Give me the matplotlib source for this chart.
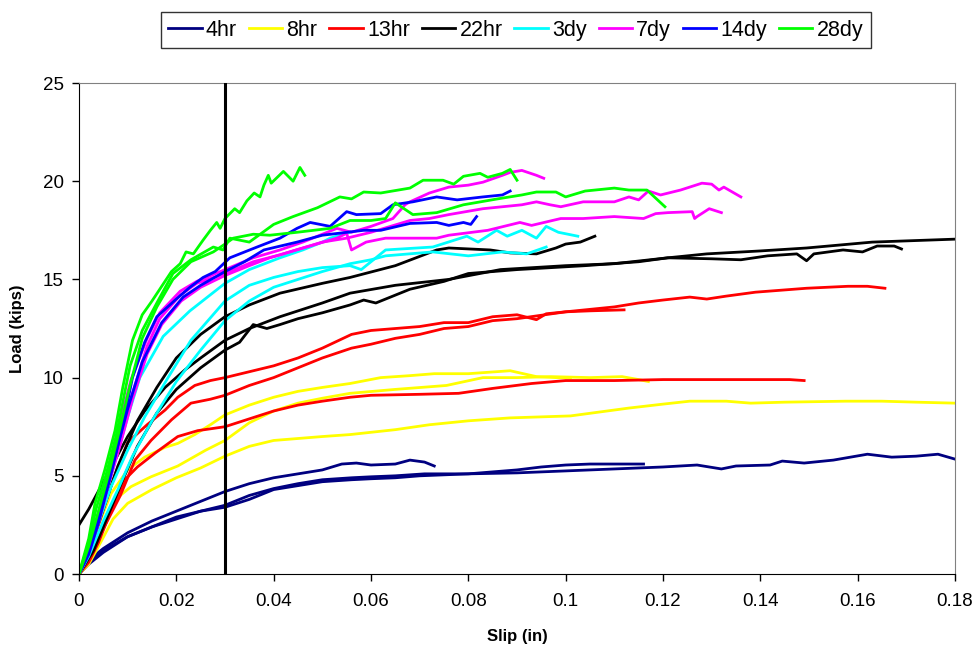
import matplotlib
matplotlib.use("Agg")
import matplotlib.pyplot as plt

plt.rcParams['font.family'] = ['Liberation Sans', 'DejaVu Sans']

# series names and colours (legend order)
ages = ['4hr', '8hr', '13hr', '22hr', '3dy', '7dy', '14dy', '28dy']
colors = ['#000080', '#FFFF00', '#FF0000', '#000000', '#00FFFF', '#FF00FF', '#0000FF', '#00FF00']

# ---- 4hr ----
s4a = [0, 0.002, 0.005, 0.01, 0.015, 0.02, 0.025, 0.03, 0.035, 0.04, 0.045, 0.05, 0.054, 0.057, 0.06, 0.065, 0.068, 0.071, 0.073]
l4a = [0, 0.7, 1.3, 2.1, 2.7, 3.2, 3.7, 4.2, 4.6, 4.9, 5.1, 5.3, 5.6, 5.65, 5.55, 5.6, 5.8, 5.7, 5.5]
s4b = [0, 0.002, 0.005, 0.01, 0.015, 0.02, 0.025, 0.03, 0.033, 0.035, 0.04, 0.045, 0.05, 0.056, 0.06, 0.065,
       0.071, 0.08, 0.085, 0.09, 0.095, 0.1, 0.105, 0.11, 0.116]
l4b = [0, 0.6, 1.2, 1.9, 2.4, 2.8, 3.2, 3.5, 3.8, 4.0, 4.35, 4.6, 4.8, 4.9, 4.95, 5.0,
       5.1, 5.1, 5.2, 5.3, 5.45, 5.55, 5.6, 5.6, 5.6]
s4c = [0, 0.002, 0.005, 0.01, 0.015, 0.02, 0.025, 0.03, 0.035, 0.04, 0.045, 0.05, 0.056, 0.06, 0.065, 0.07,
       0.08, 0.09, 0.1, 0.11, 0.12, 0.127, 0.132, 0.135, 0.142, 0.1445, 0.149, 0.155, 0.162, 0.167, 0.172, 0.1765, 0.18]
l4c = [0, 0.5, 1.1, 1.9, 2.4, 2.9, 3.2, 3.4, 3.8, 4.3, 4.5, 4.7, 4.8, 4.85, 4.9, 5.0,
       5.1, 5.15, 5.25, 5.35, 5.45, 5.55, 5.35, 5.5, 5.55, 5.75, 5.65, 5.8, 6.1, 5.95, 6.0, 6.1, 5.85]

# ---- 8hr ----
s8a = [0, 0.002, 0.004, 0.0066, 0.01, 0.0135, 0.0177, 0.0203, 0.0238, 0.027, 0.03, 0.035, 0.04, 0.045, 0.05,
       0.0557, 0.062, 0.068, 0.073, 0.08, 0.0886, 0.094, 0.098, 0.101]
l8a = [0, 1.0, 2.5, 4.1, 5.3, 5.95, 6.45, 6.65, 7.1, 7.6, 8.1, 8.6, 9.0, 9.3, 9.5,
       9.7, 10.0, 10.1, 10.2, 10.2, 10.35, 10.05, 10.0, 10.0]
s8b = [0, 0.003, 0.006, 0.008, 0.0107, 0.0148, 0.0203, 0.026, 0.03, 0.035, 0.04, 0.045, 0.05, 0.0557, 0.065,
       0.0755, 0.083, 0.09, 0.097, 0.105, 0.1116, 0.115, 0.117]
l8b = [0, 1.5, 3.0, 3.9, 4.45, 4.95, 5.5, 6.3, 6.8, 7.7, 8.3, 8.7, 8.95, 9.2, 9.4,
       9.6, 10.0, 10.0, 10.05, 10.0, 10.05, 9.9, 9.8]
s8c = [0, 0.002, 0.004, 0.007, 0.01, 0.015, 0.02, 0.025, 0.03, 0.035, 0.04, 0.05, 0.0557, 0.065, 0.072, 0.08,
       0.0886, 0.101, 0.107, 0.113, 0.12, 0.1255, 0.133, 0.138, 0.145, 0.1575, 0.165, 0.172, 0.18]
l8c = [0, 0.5, 1.4, 2.8, 3.6, 4.3, 4.9, 5.4, 6.0, 6.5, 6.8, 7.0, 7.1, 7.35, 7.6, 7.8,
       7.95, 8.05, 8.25, 8.45, 8.65, 8.8, 8.8, 8.7, 8.75, 8.8, 8.8, 8.75, 8.7]

# ---- 13hr ----
s13a = [0, 0.002, 0.004, 0.007, 0.01, 0.014, 0.0177, 0.0203, 0.0238, 0.027, 0.03, 0.035, 0.04, 0.045, 0.05,
        0.056, 0.06, 0.065, 0.07, 0.075, 0.08, 0.085, 0.09, 0.094, 0.096, 0.1, 0.105, 0.112]
l13a = [0, 1.0, 2.5, 4.8, 6.7, 7.6, 8.35, 9.0, 9.6, 9.85, 10.0, 10.3, 10.6, 11.0, 11.5,
        12.2, 12.4, 12.5, 12.6, 12.8, 12.8, 13.1, 13.2, 12.95, 13.25, 13.35, 13.4, 13.45]
s13b = [0, 0.002, 0.005, 0.0085, 0.0115, 0.0148, 0.019, 0.023, 0.027, 0.03, 0.035, 0.04, 0.045, 0.05, 0.056,
        0.06, 0.065, 0.07, 0.075, 0.08, 0.085, 0.09, 0.1, 0.11, 0.115, 0.12, 0.1255, 0.129, 0.133, 0.139,
        0.1495, 0.158, 0.162, 0.1656]
l13b = [0, 0.8, 2.3, 4.0, 5.8, 6.8, 7.85, 8.7, 8.9, 9.1, 9.6, 10.0, 10.5, 11.0, 11.5,
        11.7, 12.0, 12.2, 12.5, 12.6, 12.9, 13.0, 13.35, 13.6, 13.8, 13.95, 14.1, 14.0, 14.15, 14.35,
        14.55, 14.65, 14.65, 14.55]
s13c = [0, 0.002, 0.004, 0.0066, 0.0094, 0.012, 0.0156, 0.0203, 0.0244, 0.03, 0.035, 0.04, 0.045, 0.05,
        0.0557, 0.06, 0.07, 0.078, 0.085, 0.093, 0.1, 0.11, 0.12, 0.13, 0.14, 0.146, 0.149]
l13c = [0, 0.6, 1.6, 3.25, 4.8, 5.45, 6.15, 7.0, 7.3, 7.5, 7.9, 8.3, 8.6, 8.8,
        9.0, 9.1, 9.15, 9.2, 9.45, 9.7, 9.85, 9.85, 9.9, 9.9, 9.9, 9.9, 9.85]

# ---- 22hr ----
s22a = [0, 0.002, 0.005, 0.008, 0.012, 0.016, 0.02, 0.025, 0.03, 0.035, 0.0413, 0.05, 0.0557, 0.065, 0.0735,
        0.076, 0.0845, 0.0886, 0.094, 0.098, 0.1, 0.103, 0.106]
l22a = [0, 1.2, 3.3, 5.5, 7.8, 9.5, 11.0, 12.2, 13.1, 13.7, 14.3, 14.8, 15.1, 15.7, 16.5,
        16.6, 16.5, 16.35, 16.3, 16.6, 16.8, 16.9, 17.2]
s22b = [0, 0.002, 0.0045, 0.0074, 0.01, 0.0135, 0.0177, 0.0218, 0.025, 0.03, 0.035, 0.0413, 0.05, 0.0557,
        0.065, 0.076, 0.0866, 0.1, 0.11, 0.121, 0.129, 0.14, 0.1495, 0.163, 0.18]
l22b = [2.5, 3.3, 4.45, 5.8, 7.0, 8.3, 9.5, 10.4, 11.0, 11.9, 12.5, 13.1, 13.8, 14.3,
        14.7, 15.0, 15.5, 15.7, 15.8, 16.1, 16.3, 16.45, 16.6, 16.9, 17.05]
s22c = [0, 0.003, 0.006, 0.009, 0.012, 0.016, 0.02, 0.025, 0.03, 0.033, 0.0358, 0.0386, 0.0413, 0.045, 0.05,
        0.0557, 0.0585, 0.061, 0.068, 0.075, 0.08, 0.09, 0.104, 0.115, 0.121, 0.13, 0.136, 0.1415, 0.1475,
        0.1495, 0.151, 0.157, 0.161, 0.164, 0.1675, 0.169]
l22c = [0, 1.2, 3.0, 4.8, 6.5, 8.2, 9.4, 10.5, 11.4, 11.8, 12.7, 12.5, 12.7, 13.0, 13.3,
        13.7, 13.95, 13.8, 14.5, 14.9, 15.3, 15.5, 15.7, 15.9, 16.1, 16.05, 16.0, 16.2, 16.3,
        15.95, 16.3, 16.5, 16.4, 16.7, 16.7, 16.55]

# ---- 3dy ----
s3a = [0, 0.002, 0.004, 0.0066, 0.01, 0.0125, 0.0173, 0.0228, 0.03, 0.035, 0.0413, 0.046, 0.05, 0.0516, 0.0557]
l3a = [0, 1.2, 2.9, 5.0, 8.0, 10.0, 12.1, 13.4, 14.8, 15.5, 16.1, 16.5, 16.9, 17.1, 17.4]
s3b = [0, 0.002, 0.004, 0.0066, 0.01, 0.0135, 0.0183, 0.023, 0.03, 0.035, 0.04, 0.045, 0.05, 0.0557, 0.058,
       0.063, 0.0727, 0.0797, 0.082, 0.0858, 0.088, 0.091, 0.094, 0.096, 0.0985, 0.1025]
l3b = [0, 1.0, 2.6, 4.45, 6.3, 8.0, 10.0, 11.9, 13.9, 14.7, 15.1, 15.4, 15.6, 15.7, 15.5,
       16.5, 16.65, 17.2, 16.9, 17.5, 17.2, 17.5, 17.1, 17.7, 17.4, 17.2]
s3c = [0, 0.002, 0.005, 0.008, 0.011, 0.015, 0.02, 0.025, 0.03, 0.035, 0.04, 0.045, 0.05, 0.0557, 0.06,
       0.063, 0.0727, 0.08, 0.087, 0.092, 0.096]
l3c = [0, 0.9, 2.7, 4.3, 6.0, 7.8, 9.8, 11.4, 12.9, 13.9, 14.6, 15.0, 15.4, 15.8, 16.0,
       16.2, 16.4, 16.2, 16.4, 16.3, 16.65]

# ---- 7dy ----
s7a = [0, 0.002, 0.004, 0.006, 0.008, 0.0107, 0.014, 0.0166, 0.0208, 0.0242, 0.03, 0.0358, 0.0413, 0.046,
       0.05, 0.053, 0.056, 0.06, 0.0645, 0.067, 0.068, 0.072, 0.076, 0.08, 0.083, 0.087, 0.0886, 0.091,
       0.094, 0.0955]
l7a = [0, 1.4, 3.1, 5.3, 7.3, 9.9, 12.0, 13.3, 14.4, 14.9, 15.5, 16.1, 16.5, 16.9,
       17.3, 17.6, 17.4, 17.7, 18.1, 18.8, 18.95, 19.4, 19.7, 19.8, 19.95, 20.3, 20.45, 20.55,
       20.3, 20.15]
s7b = [0, 0.002, 0.004, 0.006, 0.008, 0.011, 0.014, 0.0166, 0.0208, 0.0242, 0.03, 0.0358, 0.0413, 0.046,
       0.05, 0.055, 0.06, 0.064, 0.068, 0.072, 0.076, 0.083, 0.091, 0.094, 0.0968, 0.099, 0.1036, 0.11,
       0.113, 0.115, 0.117, 0.1195, 0.1236, 0.128, 0.130, 0.1315, 0.1325, 0.136]
l7b = [0, 1.2, 2.8, 4.8, 6.7, 9.2, 11.6, 13.0, 14.2, 14.8, 15.3, 15.9, 16.25, 16.6,
       16.9, 17.1, 17.4, 17.7, 18.0, 18.1, 18.3, 18.6, 18.8, 18.95, 18.8, 18.7, 18.95, 18.95,
       19.2, 19.05, 19.5, 19.3, 19.55, 19.9, 19.85, 19.55, 19.7, 19.2]
s7c = [0, 0.002, 0.004, 0.006, 0.0085, 0.011, 0.014, 0.017, 0.021, 0.025, 0.03, 0.035, 0.0392, 0.046,
       0.053, 0.055, 0.056, 0.059, 0.063, 0.0735, 0.076, 0.084, 0.0906, 0.093, 0.099, 0.1036, 0.11,
       0.116, 0.1185, 0.121, 0.126, 0.1265, 0.127, 0.1295, 0.132]
l7c = [0, 1.1, 2.6, 4.5, 6.6, 8.9, 11.2, 12.7, 13.9, 14.6, 15.2, 15.7, 16.1, 16.6,
       17.1, 17.35, 16.5, 16.9, 17.1, 17.1, 17.25, 17.5, 17.9, 17.75, 18.1, 18.1, 18.2,
       18.1, 18.35, 18.4, 18.45, 18.1, 18.2, 18.6, 18.4]

# ---- 14dy ----
s14a = [0, 0.002, 0.004, 0.0065, 0.009, 0.011, 0.0135, 0.016, 0.02, 0.0228, 0.0255, 0.028, 0.031, 0.0366,
        0.0413, 0.0448, 0.0475, 0.0516, 0.055, 0.057, 0.062, 0.0645, 0.0686, 0.0735, 0.0777, 0.083, 0.087, 0.0886]
l14a = [0, 1.0, 2.6, 5.0, 7.6, 10.0, 11.8, 13.1, 14.0, 14.6, 15.1, 15.4, 16.1, 16.65,
        17.1, 17.6, 17.9, 17.7, 18.45, 18.3, 18.35, 18.8, 18.95, 19.2, 19.05, 19.2, 19.3, 19.5]
s14b = [0, 0.002, 0.004, 0.007, 0.01, 0.013, 0.017, 0.0214, 0.025, 0.03, 0.034, 0.038, 0.0448, 0.050,
        0.0585, 0.062, 0.068, 0.0735, 0.076, 0.079, 0.0805, 0.0817]
l14b = [0, 1.1, 2.8, 5.6, 8.4, 10.8, 12.8, 14.1, 14.7, 15.4, 15.9, 16.5, 16.9, 17.25,
        17.5, 17.5, 17.85, 17.9, 17.75, 17.9, 17.8, 18.2]

# ---- 28dy ----
s28a = [0, 0.002, 0.0033, 0.0053, 0.0074, 0.009, 0.011, 0.013, 0.015, 0.0166, 0.019, 0.0208, 0.022, 0.0235,
        0.0255, 0.027, 0.0283, 0.029, 0.030, 0.032, 0.033, 0.0345, 0.036, 0.0372, 0.038, 0.0389, 0.0395,
        0.042, 0.044, 0.0454, 0.0464]
l28a = [0, 1.8, 3.6, 5.3, 7.3, 9.5, 11.9, 13.2, 13.9, 14.5, 15.4, 15.8, 16.4, 16.3,
        17.0, 17.5, 17.9, 17.6, 18.1, 18.6, 18.4, 19.0, 19.4, 19.2, 19.8, 20.3, 19.9,
        20.5, 20.0, 20.7, 20.3]
s28b = [0, 0.002, 0.0035, 0.0055, 0.0076, 0.0088, 0.0105, 0.013, 0.016, 0.0193, 0.023, 0.0276, 0.0296,
        0.031, 0.035, 0.040, 0.044, 0.049, 0.0536, 0.056, 0.0585, 0.062, 0.068, 0.0707, 0.0748, 0.077,
        0.079, 0.0824, 0.084, 0.087, 0.0886, 0.090]
l28b = [0, 1.6, 3.3, 5.0, 7.0, 8.5, 10.6, 12.4, 13.8, 15.3, 16.0, 16.65, 16.5,
        17.1, 16.9, 17.8, 18.2, 18.65, 19.2, 19.1, 19.45, 19.4, 19.65, 20.05, 20.05, 19.85,
        20.25, 20.4, 20.2, 20.4, 20.6, 20.05]
s28c = [0, 0.002, 0.004, 0.006, 0.008, 0.0105, 0.013, 0.016, 0.0193, 0.023, 0.0276, 0.030, 0.0317, 0.0358,
        0.0392, 0.0448, 0.0516, 0.0557, 0.060, 0.063, 0.065, 0.0686, 0.0735, 0.079, 0.086, 0.091, 0.094,
        0.098, 0.1, 0.104, 0.11, 0.113, 0.1167, 0.1204]
l28c = [0, 1.4, 3.2, 5.0, 7.0, 9.6, 12.0, 13.6, 15.0, 15.9, 16.4, 16.8, 17.1, 17.3,
        17.25, 17.4, 17.6, 18.0, 18.0, 18.1, 18.9, 18.3, 18.4, 18.8, 19.1, 19.3, 19.45,
        19.45, 19.2, 19.5, 19.65, 19.55, 19.55, 18.7]

tests = {
    '4hr': [(s4a, l4a), (s4b, l4b), (s4c, l4c)],
    '8hr': [(s8a, l8a), (s8b, l8b), (s8c, l8c)],
    '13hr': [(s13a, l13a), (s13b, l13b), (s13c, l13c)],
    '22hr': [(s22a, l22a), (s22b, l22b), (s22c, l22c)],
    '3dy': [(s3a, l3a), (s3b, l3b), (s3c, l3c)],
    '7dy': [(s7a, l7a), (s7b, l7b), (s7c, l7c)],
    '14dy': [(s14a, l14a), (s14b, l14b)],
    '28dy': [(s28a, l28a), (s28b, l28b), (s28c, l28c)],
}

fig = plt.figure(figsize=(9.75, 6.47), dpi=100)
ax = fig.add_axes([0.081, 0.1128, 0.8985, 0.7589])

handles = []
for age, col in zip(ages, colors):
    for i, (s, l) in enumerate(tests[age]):
        ln, = ax.plot(s, l, color=col, lw=2.0, solid_joinstyle='round')
        if i == 0:
            handles.append(ln)

ax.axvline(0.03, color='black', lw=2.2, zorder=10)

ax.set_xlim(0, 0.18)
ax.set_ylim(0, 25)
ax.set_xticks([0, 0.02, 0.04, 0.06, 0.08, 0.1, 0.12, 0.14, 0.16, 0.18])
ax.set_xticklabels(['0', '0.02', '0.04', '0.06', '0.08', '0.1', '0.12', '0.14', '0.16', '0.18'])
ax.set_yticks([0, 5, 10, 15, 20, 25])
ax.tick_params(axis='both', direction='out', length=5, width=1, labelsize=13.5, colors='black')
ax.tick_params(axis='x', pad=9)
ax.tick_params(axis='y', pad=6)

for side in ['top', 'right']:
    ax.spines[side].set_color('#808080')
for side in ['left', 'bottom']:
    ax.spines[side].set_color('black')

ax.set_xlabel('Slip (in)', fontsize=12, fontweight='bold')
ax.set_ylabel('Load (kips)', fontsize=12, fontweight='bold')
ax.xaxis.set_label_coords(0.5, -0.112)
ax.yaxis.set_label_coords(-0.062, 0.5)

leg = fig.legend(handles, ages, loc='center', bbox_to_anchor=(0.529, 0.9536), ncol=8,
                 fontsize=15.5, frameon=True, fancybox=False, handlelength=1.55,
                 handletextpad=0.2, columnspacing=0.55, borderpad=0.35, borderaxespad=0)
leg.get_frame().set_edgecolor('black')
leg.get_frame().set_linewidth(1.0)

fig.savefig('out.png', dpi=100)
